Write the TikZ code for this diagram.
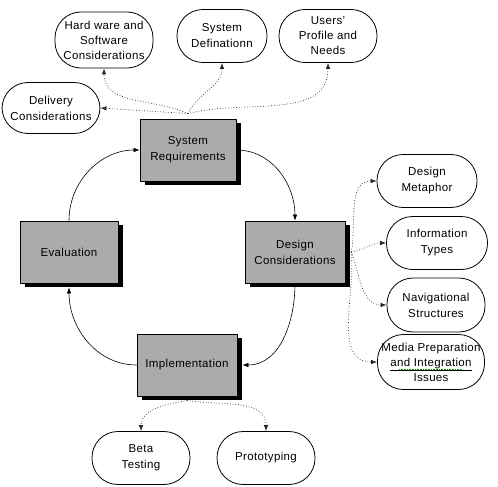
\documentclass[tikz,border=0pt]{standalone}
\usepackage{fontspec}
\setmainfont[LetterSpace=3]{Liberation Sans}
\usetikzlibrary{shadows,arrows.meta}
\tikzset{
	stage/.style={draw, line width=0.8pt, fill=black!33, minimum width=96pt, minimum height=62pt, align=center,
		drop shadow={shadow xshift=5pt, shadow yshift=-4pt, opacity=1, fill=black}},
	bubble/.style={draw, line width=0.8pt, rounded corners=26pt, minimum width=98pt, minimum height=53pt, align=center},
	link/.style={->, dotted, line width=0.7pt, black!85}
}
\begin{document}
\begin{tikzpicture}[x=1pt, y=1pt, >={Latex[length=6pt,width=4.5pt]}, line join=round, font=\fontsize{11.5}{16}\selectfont]
	\useasboundingbox (0,0) rectangle (498,-487);
	% main cycle
	\node[stage] (sysreq) at (188,-150) {System\\Requirements};
	\node[stage, minimum width=98pt] (eval) at (69,-252) {Evaluation};
	\node[stage, minimum width=100pt] (design) at (295,-252) {Design\\Considerations};
	\node[stage, minimum width=100pt] (impl) at (187,-365) {Implementation};
	\draw[->, line width=0.6pt] (eval.north) to[out=90, in=180] (sysreq.west);
	\draw[->, line width=0.6pt] (sysreq.east) to[out=0, in=90] (design.north);
	\draw[->, line width=0.6pt] (design.south) to[out=-90, in=0] ([xshift=5pt]impl.east);
	\draw[->, line width=0.6pt] (impl.west) to[out=180, in=-90] ([yshift=-4pt]eval.south);
	% requirements
	\node[bubble, minimum height=56pt, font=\fontsize{11.5}{15}\selectfont] (hw) at (104,-40) {Hard ware and\\Software\\Considerations};
	\node[bubble, minimum width=90pt] (sysdef) at (222,-36) {System\\Definationn};
	\node[bubble, font=\fontsize{11.5}{15}\selectfont] (users) at (328,-36) {Users'\\Profile and\\Needs};
	\node[bubble, minimum height=51pt] (deliv) at (51,-108) {Delivery\\Considerations};
	\coordinate (sr) at ([yshift=5pt]sysreq.north);
	\draw[link] (sr) to[out=155, in=-90] (hw.south);
	\draw[link] (sr) to[out=65, in=-90] (sysdef.south);
	\draw[link] (sr) to[out=15, in=-90] (users.south);
	\draw[link] (sr) -- (deliv.east);
	% design
	\node[bubble, minimum width=100pt] (metaphor) at (427,-181) {Design\\Metaphor};
	\node[bubble, minimum width=101pt] (info) at (437,-243) {Information\\Types};
	\node[bubble, minimum height=54pt] (navig) at (436,-305) {Navigational\\Structures};
	\node[bubble, minimum width=107pt, minimum height=55pt, inner xsep=1pt, font=\fontsize{11.5}{15}\selectfont] (media) at (431,-362) {Media Preparation\\\underline{and Integration}\\Issues};
	\draw[green!60!black, densely dotted, line width=0.6pt] ([xshift=-32pt, yshift=-7.5pt]media.center) -- ([xshift=32pt, yshift=-7.5pt]media.center);
	\coordinate (dc) at ([xshift=6pt]design.east);
	\draw[link] (dc) to[out=80, in=180] (metaphor.west);
	\draw[link] (dc) to[out=10, in=180] (info.west);
	\draw[link] (dc) to[out=-70, in=180] (navig.west);
	\draw[link] (dc) to[out=-85, in=180] (media.west);
	% implementation
	\node[bubble] (beta) at (141,-458) {Beta\\Testing};
	\node[bubble] (proto) at (266,-458) {Prototyping};
	\coordinate (im) at ([yshift=-4pt]impl.south);
	\draw[link] (im) to[out=190, in=90] (beta.north);
	\draw[link] (im) to[out=-10, in=90] (proto.north);
\end{tikzpicture}
\end{document}
